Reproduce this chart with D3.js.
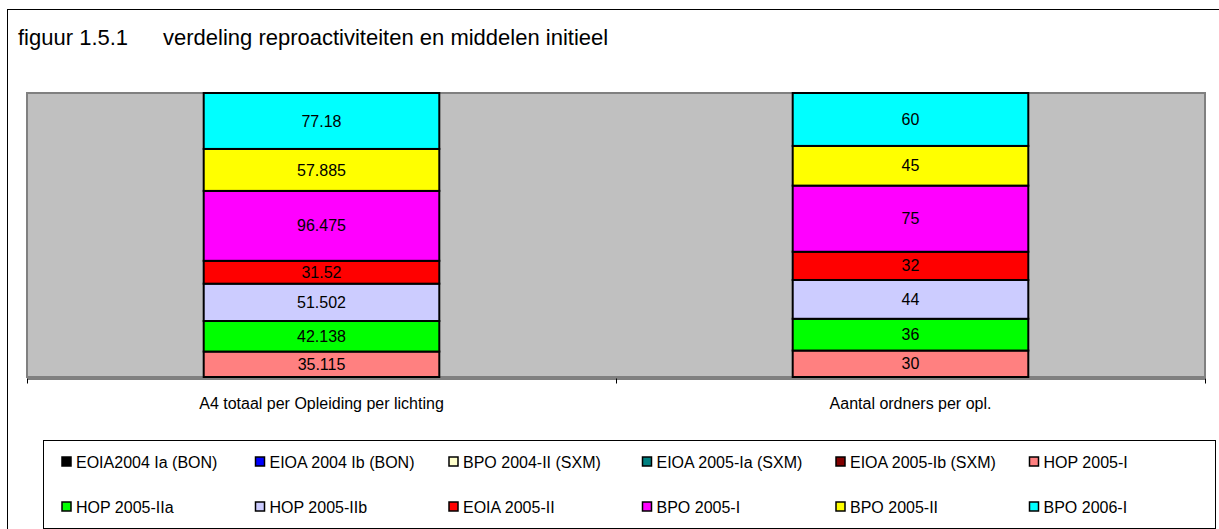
<!DOCTYPE html>
<html>
<head>
<meta charset="utf-8">
<script src="https://cdn.jsdelivr.net/npm/d3@7"></script>
<style>
  html, body { margin: 0; padding: 0; background: #fff; }
  svg { display: block; font-family: "Liberation Sans", Arial, sans-serif; }
</style>
</head>
<body>
<svg id="chart" width="1219" height="529"></svg>
<script>
const categories = ["A4 totaal per Opleiding per lichting", "Aantal ordners per opl."];
const seriesNames = [
  "EOIA2004 Ia (BON)", "EIOA 2004 Ib (BON)", "BPO 2004-II (SXM)", "EIOA 2005-Ia (SXM)",
  "EIOA 2005-Ib (SXM)", "HOP 2005-I", "HOP 2005-IIa", "HOP 2005-IIb",
  "EOIA 2005-II", "BPO 2005-I", "BPO 2005-II", "BPO 2006-I"
];
const seriesColors = [
  "#000000", "#0000FF", "#FFFFCC", "#008080",
  "#800000", "#FF8080", "#00FF00", "#CCCCFF",
  "#FF0000", "#FF00FF", "#FFFF00", "#00FFFF"
];
// values per series: [A4 totaal, Aantal ordners]
const seriesValues = [
  [0, 0], [0, 0], [0, 0], [0, 0],
  [0, 0], [35.115, 30], [42.138, 36], [51.502, 44],
  [31.52, 32], [96.475, 75], [57.885, 45], [77.18, 60]
];
const labelText = [
  ["", ""], ["", ""], ["", ""], ["", ""],
  ["", ""], ["35.115", "30"], ["42.138", "36"], ["51.502", "44"],
  ["31.52", "32"], ["96.475", "75"], ["57.885", "45"], ["77.18", "60"]
];

const svg = d3.select("#chart");

// outer chart border (extends past right/bottom edge)
svg.append("rect").attr("x", 7.5).attr("y", 9.5).attr("width", 1225).attr("height", 530)
  .attr("fill", "#fff").attr("stroke", "#000").attr("stroke-width", 1);

// title
svg.append("text").attr("x", 18).attr("y", 45).attr("font-size", 22).attr("fill", "#000").text("figuur 1.5.1");
svg.append("text").attr("x", 163).attr("y", 45).attr("font-size", 22).attr("fill", "#000")
  .text("verdeling reproactiviteiten en middelen initieel");

const plot = { left: 27, right: 1205, top: 93, bottom: 377 };

// plot area
svg.append("rect").attr("x", plot.left).attr("y", plot.top)
  .attr("width", plot.right - plot.left).attr("height", plot.bottom - plot.top)
  .attr("fill", "#C0C0C0").attr("stroke", "#808080").attr("stroke-width", 2);

const x = d3.scaleBand().domain(categories).range([plot.left, plot.right])
  .paddingInner(0.6).paddingOuter(0.3);
const y = d3.scaleLinear().domain([0, 1]).range([plot.bottom, plot.top]);

const table = categories.map((c, ci) => {
  const row = { cat: c };
  seriesNames.forEach((s, si) => { row[s] = seriesValues[si][ci]; });
  return row;
});
const stack = d3.stack().keys(seriesNames).offset(d3.stackOffsetExpand);
const layers = stack(table);

const g = svg.append("g");
layers.forEach((layer, si) => {
  layer.forEach((d, ci) => {
    if (d[1] - d[0] <= 0) return;
    const x0 = x(categories[ci]);
    g.append("rect")
      .attr("x", x0).attr("y", y(d[1]))
      .attr("width", x.bandwidth()).attr("height", y(d[0]) - y(d[1]))
      .attr("fill", seriesColors[si]).attr("stroke", "#000").attr("stroke-width", 2);
    g.append("text")
      .attr("x", x0 + x.bandwidth() / 2).attr("y", (y(d[0]) + y(d[1])) / 2)
      .attr("dy", "0.35em").attr("text-anchor", "middle")
      .attr("font-size", 16).attr("fill", "#000")
      .text(labelText[si][ci]);
  });
});

// x axis with boundary ticks
const xb = d3.scaleLinear().domain([0, categories.length]).range([plot.left, plot.right]);
const axisG = svg.append("g").attr("transform", `translate(0,${plot.bottom + 1.5})`)
  .call(d3.axisBottom(xb).tickValues(d3.range(categories.length + 1)).tickFormat("").tickSize(5).tickSizeOuter(0));
axisG.select(".domain").attr("stroke", "#000").attr("stroke-width", 1);
axisG.selectAll(".tick line").attr("stroke", "#000");

categories.forEach(c => {
  svg.append("text").attr("x", x(c) + x.bandwidth() / 2).attr("y", 409)
    .attr("text-anchor", "middle").attr("font-size", 16).attr("fill", "#000").text(c);
});

// legend
svg.append("rect").attr("x", 43.5).attr("y", 440.5).attr("width", 1172).attr("height", 88)
  .attr("fill", "#fff").attr("stroke", "#000").attr("stroke-width", 1);
const colX = [62, 255.5, 449, 642.5, 836, 1029.5];
const rowY = [462, 507];
seriesNames.forEach((s, i) => {
  const cx = colX[i % 6], cy = rowY[Math.floor(i / 6)];
  svg.append("rect").attr("x", cx).attr("y", cy - 5).attr("width", 9).attr("height", 9)
    .attr("fill", seriesColors[i]).attr("stroke", "#000").attr("stroke-width", 1.5);
  svg.append("text").attr("x", cx + 14).attr("y", cy).attr("dy", "0.35em")
    .attr("font-size", 16).attr("fill", "#000").text(s);
});
</script>
</body>
</html>
